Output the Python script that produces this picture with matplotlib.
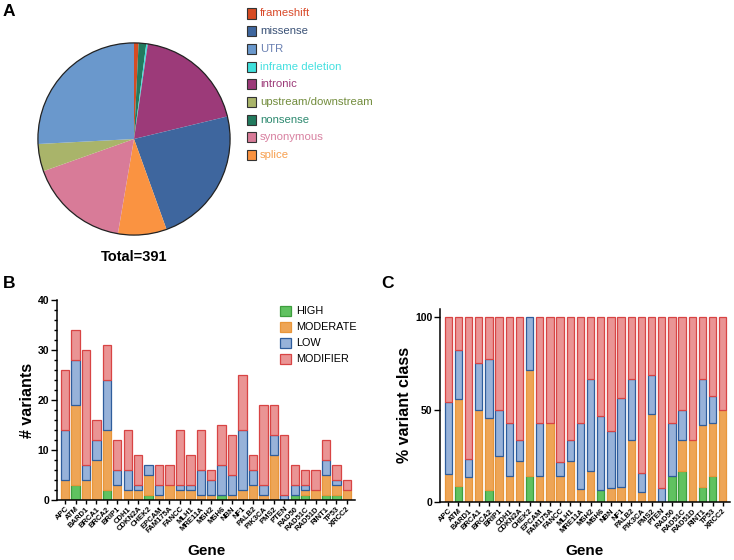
import numpy as np
import matplotlib
matplotlib.use('Agg')
import matplotlib.pyplot as plt
from matplotlib.patches import Rectangle, Circle
from matplotlib.ticker import MultipleLocator

plt.rcParams['font.family'] = ['Liberation Sans', 'DejaVu Sans']

# ---- data ----
pie_labels = ['frameshift', 'missense', 'UTR', 'inframe deletion', 'intronic',
              'upstream/downstream', 'nonsense', 'synonymous', 'splice']
pie_colors = ['#d64b23', '#3e669e', '#6a98cc', '#3fe0dc', '#9c3a79',
              '#a9b46a', '#227a5e', '#d87b98', '#fa9341']
pie_text_colors = ['#d94a2a', '#3b5277', '#6a80b2', '#45e0e0', '#9c3a78',
                   '#728c3c', '#2e8a70', '#d880a0', '#f7a050']
# slice order as drawn, clockwise from 12 o'clock
pie_order = ['frameshift', 'nonsense', 'inframe deletion', 'intronic', 'missense',
             'splice', 'synonymous', 'upstream/downstream', 'UTR']
pie_counts = [3, 5, 1, 74, 91, 32, 66, 18, 101]

genes = ['APC', 'ATM', 'BARD1', 'BRCA1', 'BRCA2', 'BRIP1', 'CDH1', 'CDKN2A', 'CHEK2',
         'EPCAM', 'FAM175A', 'FANCC', 'MLH1', 'MRE11A', 'MSH2', 'MSH6', 'NBN', 'NF1',
         'PALB2', 'PIK3CA', 'PMS2', 'PTEN', 'RAD50', 'RAD51C', 'RAD51D', 'RINT1',
         'TP53', 'XRCC2']
high     = [0, 3, 0, 0, 2, 0, 0, 0, 1, 0, 0, 0, 0, 0, 0, 1, 0, 0, 0, 0, 0, 0, 1, 1, 0, 1, 1, 0]
moderate = [4, 16, 4, 8, 12, 3, 2, 2, 4, 1, 3, 2, 2, 1, 1, 0, 1, 2, 3, 1, 9, 0, 0, 1, 2, 4, 2, 2]
low      = [10, 9, 3, 4, 10, 3, 4, 1, 2, 2, 0, 1, 1, 5, 3, 6, 4, 12, 3, 2, 4, 1, 2, 1, 0, 3, 1, 0]
modifier = [12, 6, 23, 4, 7, 6, 8, 6, 0, 4, 4, 11, 6, 8, 2, 8, 8, 11, 3, 16, 6, 12, 4, 3, 4, 4, 3, 2]

impact_names = ['HIGH', 'MODERATE', 'LOW', 'MODIFIER']
impact_fill = ['#60c260', '#eea556', '#97b2d9', '#ea9494']
impact_edge = ['#3e9e3e', '#e8963a', '#2f5d9c', '#d84444']

W, H = 734, 560
fig = plt.figure(figsize=(W / 100, H / 100), dpi=100)


def px_axes(x0, y0, x1, y1):
    # pixel box (top-left origin) -> figure axes
    return fig.add_axes([x0 / W, 1 - y1 / H, (x1 - x0) / W, (y1 - y0) / H])


def fx(x):
    return x / W


def fy(y):
    return 1 - y / H


# ---- panel A: pie ----
axp = px_axes(36, 41, 232, 237)
cmap = dict(zip(pie_labels, pie_colors))
axp.pie(pie_counts, colors=[cmap[k] for k in pie_order], startangle=90,
        counterclock=False, radius=1, wedgeprops=dict(linewidth=0))
axp.add_patch(Circle((0, 0), 1, fill=False, edgecolor='#222222', linewidth=0.9))
axp.set_xlim(-1.02, 1.02)
axp.set_ylim(-1.02, 1.02)
axp.set_aspect('equal')
axp.axis('off')
fig.text(fx(134), fy(257), 'Total=391', ha='center', va='center',
         fontsize=10.5, fontweight='bold')

for i, (lab, c, tc) in enumerate(zip(pie_labels, pie_colors, pie_text_colors)):
    yc = 13.5 + 17.7 * i
    fig.add_artist(Rectangle((fx(247), fy(yc + 5)), 9 / W, 10 / H,
                             transform=fig.transFigure, facecolor=c,
                             edgecolor='#333333', linewidth=0.8))
    fig.text(fx(260), fy(yc), lab, color=tc, fontsize=8.2, va='center', ha='left')


def style_axis(ax):
    for s in ['top', 'right']:
        ax.spines[s].set_visible(False)
    for s in ['left', 'bottom']:
        ax.spines[s].set_linewidth(1.1)
    ax.tick_params(axis='both', which='both', direction='out', width=1.0)
    ax.tick_params(axis='y', which='major', length=4, labelsize=7.5, pad=1.5)
    ax.tick_params(axis='y', which='minor', length=2.5)
    ax.tick_params(axis='x', length=3, labelsize=5.5, pad=1)
    for t in ax.get_yticklabels():
        t.set_fontweight('bold')
    ax.set_xticks(np.arange(len(genes)))
    ax.set_xticklabels(genes, rotation=45, ha='right', rotation_mode='anchor',
                       fontweight='bold')


def stacked(ax, layers, width):
    x = np.arange(len(genes))
    bottom = np.zeros(len(genes))
    for vals, fc, ec, name in zip(layers, impact_fill, impact_edge, impact_names):
        vals = np.asarray(vals, dtype=float)
        lw = np.where(vals > 0, 0.9, 0.0)
        ax.bar(x, vals, width=width, bottom=bottom, color=fc, edgecolor=ec,
               linewidth=lw, label=name)
        bottom += vals


# ---- panel B: counts ----
axb = px_axes(57, 300, 355, 500)
stacked(axb, [high, moderate, low, modifier], 0.8)
axb.set_ylim(0, 40)
axb.set_xlim(-0.78, 27.78)
axb.yaxis.set_major_locator(MultipleLocator(10))
axb.yaxis.set_minor_locator(MultipleLocator(2))
style_axis(axb)
axb.set_ylabel('# variants', fontsize=11.5, fontweight='bold', labelpad=2)

for i, (name, fc, ec) in enumerate(zip(impact_names, impact_fill, impact_edge)):
    yc = 310.5 + 16.2 * i
    fig.add_artist(Rectangle((fx(280), fy(yc + 5)), 11 / W, 10 / H,
                             transform=fig.transFigure, facecolor=fc,
                             edgecolor=ec, linewidth=0.9))
    fig.text(fx(296), fy(yc), name, fontsize=7.8, va='center', ha='left')

# ---- panel C: percentages ----
tot = np.array(high) + np.array(moderate) + np.array(low) + np.array(modifier)
pct = [np.array(v) / tot * 100 for v in [high, moderate, low, modifier]]
axc = px_axes(440, 308.7, 730, 502)
stacked(axc, pct, 0.72)
axc.set_ylim(0, 104.5)
axc.set_xlim(-0.82, 27.72)
axc.set_yticks([0, 50, 100])
style_axis(axc)
axc.set_ylabel('% variant class', fontsize=11.5, fontweight='bold', labelpad=2)

fig.text(fx(206), fy(551), 'Gene', ha='center', va='center', fontsize=11, fontweight='bold')
fig.text(fx(585), fy(551), 'Gene', ha='center', va='center', fontsize=11, fontweight='bold')

fig.text(fx(3), fy(12), 'A', fontsize=12.5, fontweight='bold', va='center')
fig.text(fx(3), fy(284), 'B', fontsize=12.5, fontweight='bold', va='center')
fig.text(fx(381), fy(284), 'C', fontsize=12.5, fontweight='bold', va='center')

fig.savefig('out.png', dpi=100)
